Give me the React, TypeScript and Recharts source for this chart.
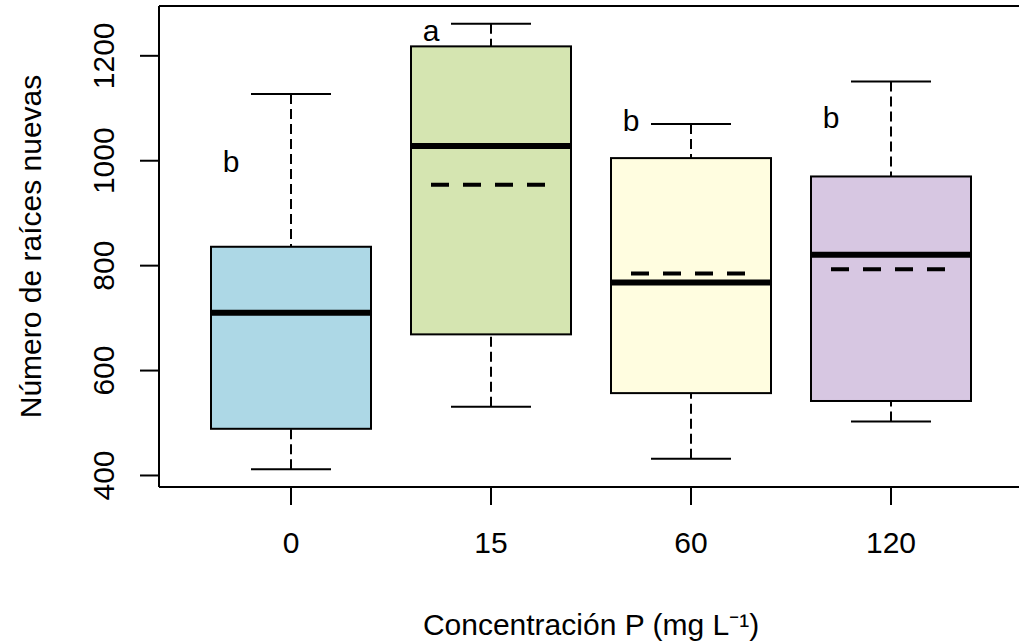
import React from 'react';
import { ComposedChart, Bar, Scatter, XAxis, YAxis, ReferenceLine } from 'recharts';

const categories = ['0', '15', '60', '120'];
const whiskerLow = [412, 531, 432, 503];
const quartile1 = [489, 669, 557, 542];
const medians = [710, 1028, 768, 821];
const quartile3 = [836, 1218, 1005, 970];
const whiskerHigh = [1127, 1261, 1070, 1151];
const means: (number | null)[] = [null, 954, 785, 793];
const letters = ['b', 'a', 'b', 'b'];
const letterValues = [999, 1248, 1076, 1083];
const boxFills = ['#ADD8E6', '#D5E5B1', '#FFFDE0', '#D7C7E2'];
const yTicks = [400, 600, 800, 1000, 1200];

const FONT = '"Liberation Sans", Arial, sans-serif';
const FS = 30;

const data = categories.map((cat, i) => ({
  cat,
  base: whiskerLow[i],
  lo: quartile1[i] - whiskerLow[i],
  b1: medians[i] - quartile1[i],
  b2: quartile3[i] - medians[i],
  hi: whiskerHigh[i] - quartile3[i],
  mean: means[i],
  letter: letters[i],
  letterY: letterValues[i],
  idx: i,
}));

const lowAll = Math.min(...whiskerLow);
const highAll = Math.max(...whiskerHigh);
const ext = (highAll - lowAll) * 0.04;
const yDomain: [number, number] = [lowAll - ext, highAll + ext];

const Empty = () => <g />;

const LowWhisker = (p: any) => {
  const cx = p.x + p.width / 2;
  const bottom = p.y + p.height;
  return (
    <g>
      <line x1={cx} y1={bottom} x2={cx} y2={p.y} stroke="#000" strokeWidth={2} strokeDasharray="10 5" />
      <line x1={cx - p.width / 4} y1={bottom} x2={cx + p.width / 4} y2={bottom} stroke="#000" strokeWidth={2} />
    </g>
  );
};

const HighWhisker = (p: any) => {
  const cx = p.x + p.width / 2;
  return (
    <g>
      <line x1={cx} y1={p.y} x2={cx} y2={p.y + p.height} stroke="#000" strokeWidth={2} strokeDasharray="10 5" />
      <line x1={cx - p.width / 4} y1={p.y} x2={cx + p.width / 4} y2={p.y} stroke="#000" strokeWidth={2} />
    </g>
  );
};

const BoxLower = (p: any) => (
  <rect x={p.x} y={p.y} width={p.width} height={p.height} fill={boxFills[p.index]} stroke="#000" strokeWidth={2} />
);

const BoxUpper = (p: any) => (
  <g>
    <rect x={p.x} y={p.y} width={p.width} height={p.height} fill={boxFills[p.index]} stroke="#000" strokeWidth={2} />
    <line x1={p.x} y1={p.y + p.height} x2={p.x + p.width} y2={p.y + p.height} stroke="#000" strokeWidth={6} />
  </g>
);

const MeanShape = (p: any) => {
  if (p.payload == null || p.payload.mean == null || !isFinite(p.cy)) return <g />;
  return (
    <line x1={p.cx - 60} y1={p.cy} x2={p.cx + 60} y2={p.cy} stroke="#000" strokeWidth={4} strokeDasharray="18 14" />
  );
};

const LetterShape = (p: any) => (
  <text x={p.cx - 60} y={p.cy} textAnchor="middle" dominantBaseline="central" fontSize={FS} fontFamily={FONT} fill="#000">
    {p.payload.letter}
  </text>
);

const XTick = (p: any) => (
  <text x={p.x} y={p.y} dy={46} textAnchor="middle" fontSize={FS} fontFamily={FONT} fill="#000">
    {p.payload.value}
  </text>
);

const YTick = (p: any) => {
  const bx = p.x - 26;
  return (
    <text x={bx} y={p.y} transform={`rotate(-90 ${bx} ${p.y})`} textAnchor="middle" fontSize={FS} fontFamily={FONT} fill="#000">
      {p.payload.value}
    </text>
  );
};

const XTitle = (p: any) => {
  const vb = p.viewBox;
  return (
    <text x={vb.x + vb.width / 2} y={635} textAnchor="middle" fontSize={FS} fontFamily={FONT} fill="#000">
      Concentración P (mg L⁻¹)
    </text>
  );
};

const YTitle = (p: any) => {
  const vb = p.viewBox;
  const cy = vb.y + vb.height / 2;
  return (
    <text x={41} y={cy} transform={`rotate(-90 41 ${cy})`} textAnchor="middle" fontSize={FS} fontFamily={FONT} fill="#000">
      Número de raíces nuevas
    </text>
  );
};

export default function App() {
  const axisStroke = { stroke: '#000', strokeWidth: 2 };
  return (
    <div style={{ position: 'absolute', left: 0, top: 0, width: 1019, height: 644, overflow: 'hidden', background: '#fff' }}>
      <ComposedChart width={1040} height={644} data={data} margin={{ top: 6, right: 17, bottom: 0, left: 0 }} barSize={160}>
        <XAxis
          dataKey="cat"
          type="category"
          height={157}
          padding={{ left: 32, right: 32 }}
          axisLine={axisStroke}
          tickLine={axisStroke}
          tickSize={18}
          tickMargin={2}
          tick={<XTick />}
          label={<XTitle />}
        />
        <YAxis
          type="number"
          width={159}
          domain={yDomain}
          allowDataOverflow
          ticks={yTicks}
          axisLine={axisStroke}
          tickLine={axisStroke}
          tickSize={19}
          tickMargin={0}
          tick={<YTick />}
          label={<YTitle />}
        />
        <ReferenceLine y={yDomain[1]} stroke="#000" strokeWidth={2} />
        <Bar dataKey="base" stackId="box" shape={<Empty />} isAnimationActive={false} />
        <Bar dataKey="lo" stackId="box" shape={<LowWhisker />} isAnimationActive={false} />
        <Bar dataKey="b1" stackId="box" shape={<BoxLower />} isAnimationActive={false} />
        <Bar dataKey="b2" stackId="box" shape={<BoxUpper />} isAnimationActive={false} />
        <Bar dataKey="hi" stackId="box" shape={<HighWhisker />} isAnimationActive={false} />
        <Scatter dataKey="mean" shape={<MeanShape />} isAnimationActive={false} />
        <Scatter dataKey="letterY" shape={<LetterShape />} isAnimationActive={false} />
      </ComposedChart>
    </div>
  );
}
